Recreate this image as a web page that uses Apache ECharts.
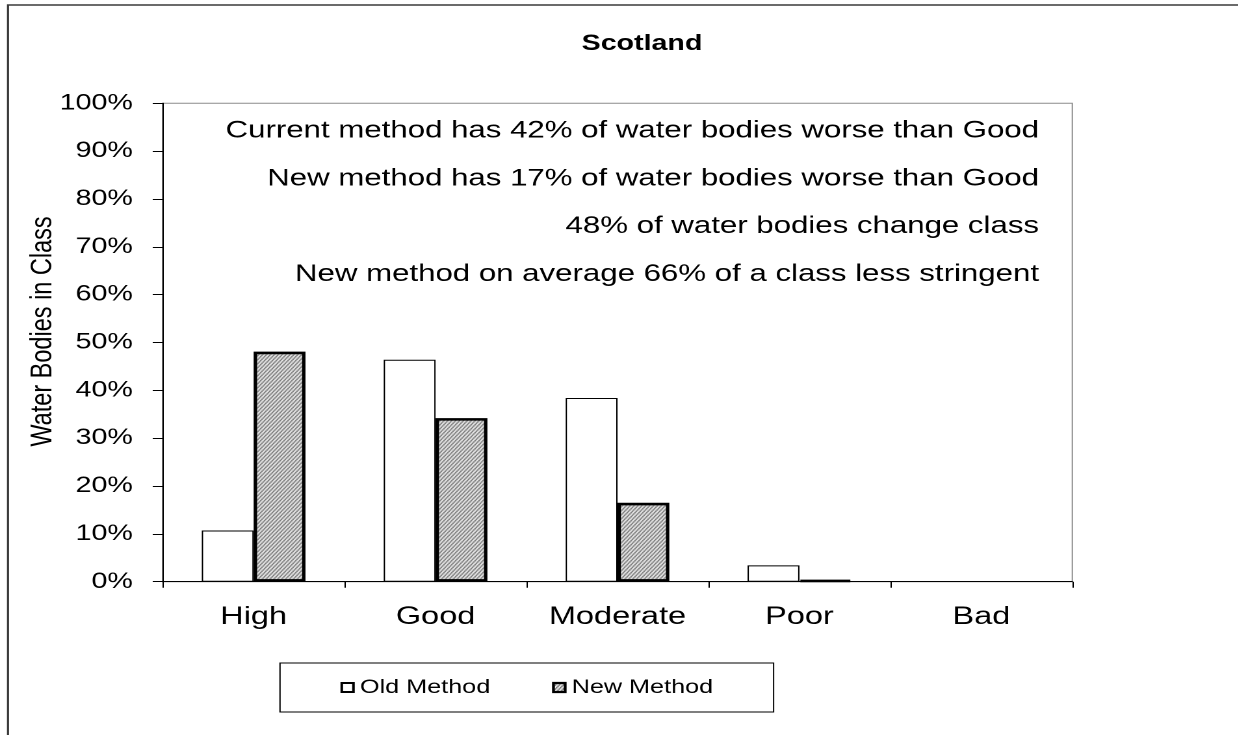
<!DOCTYPE html>
<html>
<head>
<meta charset="utf-8">
<title>Scotland</title>
<script src="https://cdn.jsdelivr.net/npm/echarts@6/dist/echarts.min.js"></script>
<style>
  html, body { margin: 0; padding: 0; background: #fff; overflow: hidden; }
  #wrap { width: 1238px; height: 735px; overflow: hidden; }
  /* the chart is laid out narrower and widened, giving the broad Excel-style lettering */
  #chart { width: 952.3px; height: 735px; transform: scaleX(1.3); transform-origin: 0 0; }
</style>
</head>
<body>
<div id="wrap"><div id="chart"></div></div>
<script>
// ---- data ----
const categories = ['High', 'Good', 'Moderate', 'Poor', 'Bad'];
const oldMethod = [10.7, 46.4, 38.4, 3.4, 0];
const newMethod = [48.1, 34.2, 16.5, 0.3, 0];
const seriesNames = ['Old Method', 'New Method'];
const chartTitle = 'Scotland';
const yAxisTitle = 'Water Bodies in Class';
const notes = [
  'Current method has 42% of water bodies worse than Good',
  'New method has 17% of water bodies worse than Good',
  '48% of water bodies change class',
  'New method on average 66% of a class less stringent'
];

// ---- layout helpers ----
const SX = 1.3;                 // horizontal widening applied by CSS
const px = x => x / SX;         // page x -> chart x
const FONT = '"Liberation Sans", Arial, sans-serif';

// diagonal hatch tile for the new-method bars
function hatchTile() {
  const c = document.createElement('canvas');
  c.width = 12; c.height = 16;
  const g = c.getContext('2d');
  g.fillStyle = '#fff';
  g.fillRect(0, 0, 12, 16);
  g.strokeStyle = '#1a1a1a';
  g.lineWidth = 0.95;
  for (let k = -8; k <= 8; k++) {
    const a = k * 3;
    g.beginPath();
    g.moveTo(a, 16);
    g.lineTo(a + 12, 0);
    g.stroke();
  }
  return c;
}

// zero-height bars are left without an outline
const toBarData = vals => vals.map(v => v === 0 ? { value: v, itemStyle: { borderWidth: 0 } } : v);

const chart = echarts.init(document.getElementById('chart'), null, { renderer: 'canvas', devicePixelRatio: 2 });

const noteGap = 47.8;

chart.setOption({
  animation: false,
  backgroundColor: '#fff',
  grid: {
    left: px(162.7), right: 952.3 - px(1072.7), top: 103.3, bottom: 735 - 581.7,
    outerBoundsMode: 'none',
    show: true, borderColor: '#8c8c8c', borderWidth: 1, backgroundColor: 'transparent'
  },
  legend: {
    data: [
      { name: seriesNames[0] },
      { name: seriesNames[1], itemStyle: { borderWidth: 2.2 } }
    ],
    left: px(280), top: 663,
    padding: [15, 46.5],
    itemGap: 47.5, itemWidth: 9, itemHeight: 9,
    borderColor: '#000', borderWidth: 1,
    icon: 'rect',
    selectedMode: false,
    textStyle: { fontFamily: FONT, fontSize: 19.4, color: '#000' }
  },
  xAxis: {
    type: 'category',
    data: categories,
    axisLine: { show: true, lineStyle: { color: '#000', width: 1 } },
    axisTick: { show: true, length: 6, lineStyle: { color: '#000', width: 1 } },
    axisLabel: { margin: 23, color: '#000', fontFamily: FONT, fontSize: 25 },
    splitLine: { show: false }
  },
  yAxis: {
    type: 'value',
    min: 0, max: 100, interval: 10,
    axisLine: { show: true, lineStyle: { color: '#000', width: 1 } },
    axisTick: { show: true, length: 7.7, lineStyle: { color: '#000', width: 1 } },
    axisLabel: { formatter: '{value}%', margin: 23, color: '#000', fontFamily: FONT, fontSize: 22 },
    splitLine: { show: false },
    name: yAxisTitle,
    nameLocation: 'middle',
    nameGap: 80,
    nameMoveOverlap: false,
    nameTextStyle: { color: '#000', fontFamily: FONT, fontSize: 23.5, padding: [0, 0, 0, 22] }
  },
  series: [
    {
      name: seriesNames[0],
      type: 'bar',
      barGap: '0%',
      barCategoryGap: '43%',
      data: toBarData(oldMethod),
      itemStyle: { color: '#fff', borderColor: '#000', borderWidth: 1 },
      emphasis: { disabled: true }
    },
    {
      name: seriesNames[1],
      type: 'bar',
      barGap: '0%',
      barCategoryGap: '43%',
      data: toBarData(newMethod),
      itemStyle: { color: { image: hatchTile(), repeat: 'repeat' }, borderColor: '#000', borderWidth: 2.6 },
      emphasis: { disabled: true }
    }
  ],
  graphic: [
    {
      type: 'rect', silent: true, z: -10,
      shape: { x: px(8), y: 5, width: 3000, height: 3000 },
      style: { fill: 'none', stroke: '#3a3a3a', lineWidth: 1.6 }
    },
    {
      type: 'text', silent: true,
      x: px(642), y: 33,
      style: { text: chartTitle, textAlign: 'center', textVerticalAlign: 'top',
               font: 'bold 22px ' + FONT, fill: '#000' }
    }
  ].concat(notes.map((t, i) => ({
    type: 'text', silent: true,
    x: px(1039), y: 119 + i * noteGap,
    style: { text: t, textAlign: 'right', textVerticalAlign: 'top',
             font: '24px ' + FONT, fill: '#000' }
  })))
});
</script>
</body>
</html>
